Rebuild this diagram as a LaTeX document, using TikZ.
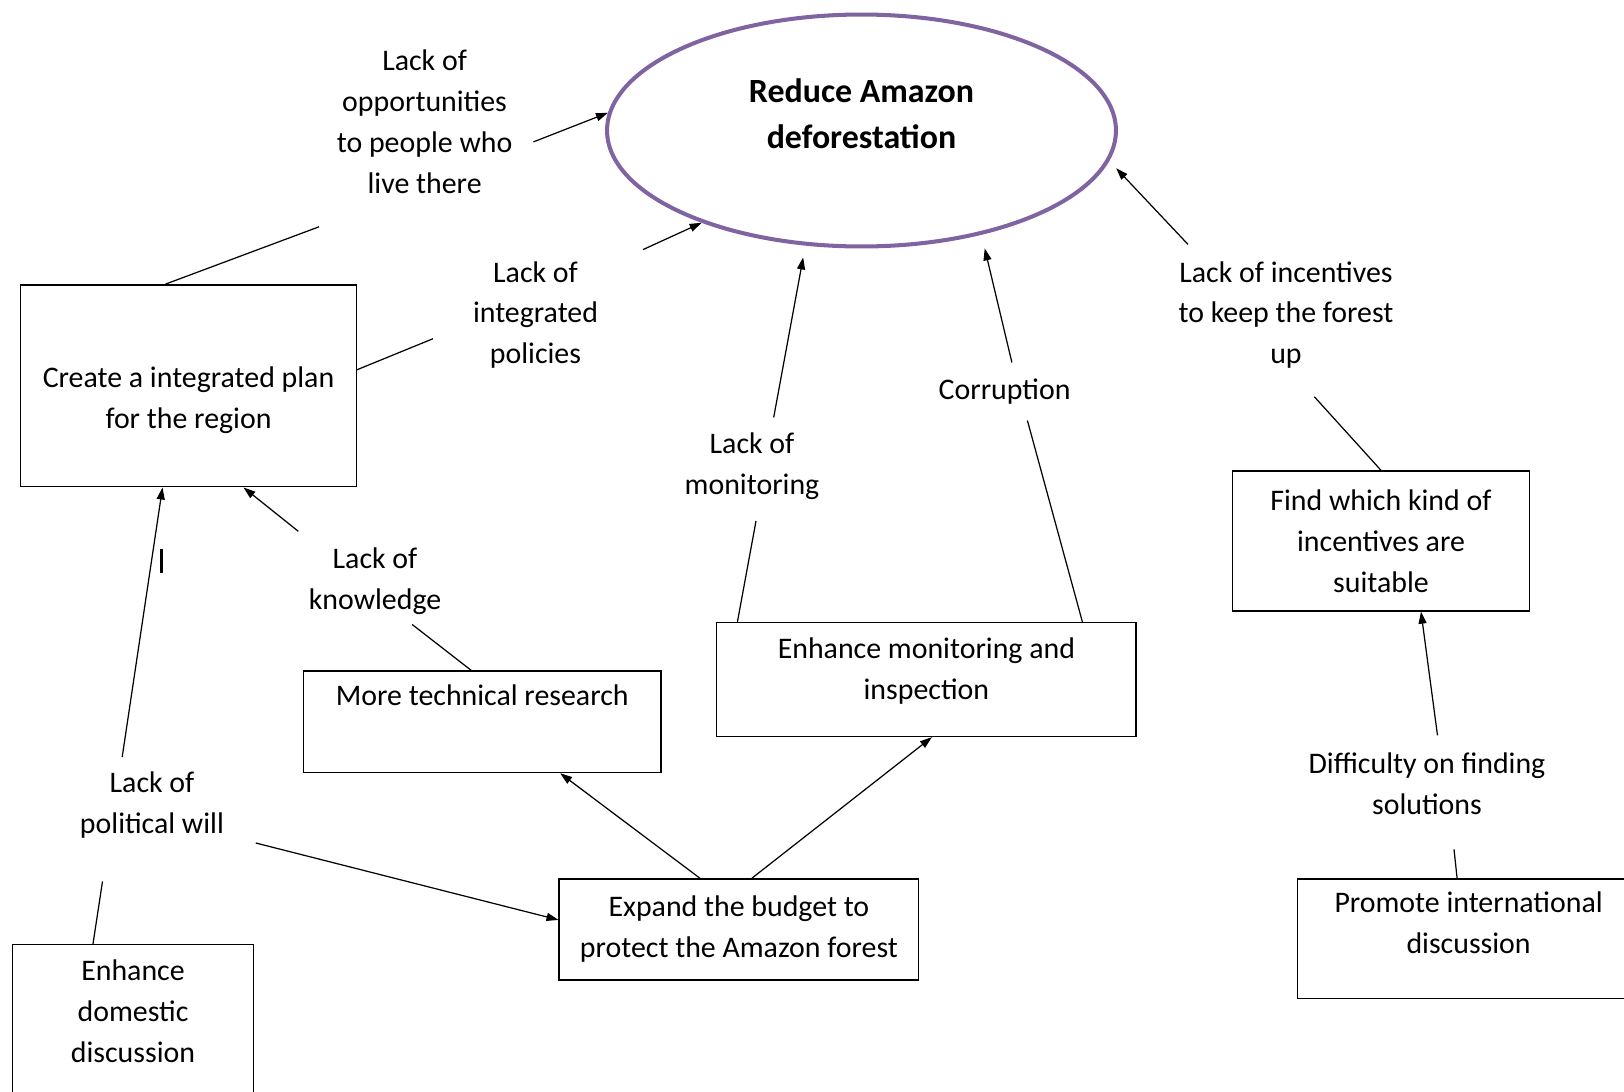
\documentclass[tikz,border=0pt]{standalone}
\usepackage{fontspec}
\setmainfont{Carlito}
\usetikzlibrary{shapes.geometric,arrows.meta}
\definecolor{viola}{RGB}{128,100,162}
\begin{document}
\begin{tikzpicture}[x=0.02cm,y=-0.02cm,
  font=\fontsize{17}{23.3}\selectfont,
  box/.style={draw,line width=0.8pt,align=center,inner sep=0pt},
  lbl/.style={align=center,inner sep=1pt},
  arr/.style={-{Triangle[length=0.24cm,width=0.16cm]},line width=0.7pt},
  lin/.style={line width=0.7pt}]
\useasboundingbox (0,0) rectangle (1624,1092);

% Obiettivo
\node[ellipse,draw=viola,line width=2.3pt,minimum width=10.18cm,minimum height=4.64cm,inner sep=0pt,
  font=\fontsize{19.3}{26}\selectfont\bfseries,align=center,text depth=0.68cm] (goal) at (861.5,130.5) {Reduce Amazon\\deforestation};

% Riquadri
\node[box,minimum width=6.71cm,minimum height=4.04cm,text height=1.82cm] (plan) at (188.5,385.8) {Create a integrated plan\\for the region};
\node[box,minimum width=7.15cm,minimum height=2.03cm,text depth=1.05cm] (research) at (482.2,721.8) {More technical research};
\node[box,minimum width=8.39cm,minimum height=2.28cm,text depth=0.45cm] (monitor) at (926.4,679.5) {Enhance monitoring and\\inspection};
\node[box,minimum width=5.94cm,minimum height=2.8cm] (incent) at (1381,541) {Find which kind of\\incentives are\\suitable};
\node[box,minimum width=7.19cm,minimum height=2.02cm] (budget) at (738.9,929.4) {Expand the budget to\\protect the Amazon forest};
\node[box,minimum width=6.84cm,minimum height=2.39cm,text depth=0.64cm] (promote) at (1468.6,938.7) {Promote international\\discussion};
\node[box,minimum width=4.83cm,minimum height=3.71cm,text depth=1.05cm] (domestic) at (133,1037.3) {Enhance\\domestic\\discussion};

% Cause
\node[lbl] (opport) at (424.6,121.5) {Lack of\\opportunities\\to people who\\live there};
\node[lbl] (policies) at (535.5,315) {Lack of\\integrated\\policies};
\node[lbl] (incentlack) at (1286,315) {Lack of incentives\\to keep the forest\\up};
\node[lbl] (corrupt) at (1004.6,391.5) {Corruption};
\node[lbl] (monitlack) at (752,466.6) {Lack of\\monitoring};
\node[lbl] (knowl) at (375,581.4) {Lack of\\knowledge};
\node[lbl] (politwill) at (152,805.2) {Lack of\\political will};
\node[lbl] (difficult) at (1427,784) {Difficulty on finding\\solutions};

% Punti liberi
\coordinate (a1) at (319,226.8);   \coordinate (a2) at (533.4,141.9);
\coordinate (b1) at (433,338.7);   \coordinate (b2) at (643,249.6);
\coordinate (c1) at (756,521);     \coordinate (c2) at (773.7,417.4);
\coordinate (d1) at (1027.4,420.5); \coordinate (d2) at (1011.9,362.5);
\coordinate (e1) at (1314.3,396.7); \coordinate (e2) at (1188,244.4);
\coordinate (f1) at (412.2,624.5); \coordinate (f2) at (298.3,531.3);
\coordinate (g1) at (102.5,881.4); \coordinate (g2) at (122.2,757);
\coordinate (g3) at (255.8,843);
\coordinate (j1) at (1454,849.3);  \coordinate (j2) at (1437.5,735.4);

% Collegamenti
\draw[lin] ([xshift=-0.46cm]plan.north) -- (a1);
\draw[arr] (a2) -- (goal.176);
\draw[lin] ([yshift=0.32cm]plan.east) -- (b1);
\draw[arr] (b2) -- (goal.210);
\draw[lin] ([xshift=-3.78cm]monitor.north) -- (c1);
\draw[arr,shorten >=12*0.02cm] (c2) -- (goal.244);
\draw[lin] ([xshift=3.12cm]monitor.north) -- (d1);
\draw[arr,shorten >=14*0.02cm] (d2) -- (goal.319);
\draw[lin] (incent.north) -- (e1);
\draw[arr,shorten >=10*0.02cm] (e2) -- (goal.353);
\draw[lin] ([xshift=-0.22cm]research.north) -- (f1);
\draw[arr] (f2) -- ([xshift=1.1cm]plan.south);
\draw[lin] ([xshift=-0.8cm]domestic.north) -- (g1);
\draw[arr] (g2) -- ([xshift=-0.52cm]plan.south);
\draw[arr] (g3) -- ([yshift=0.19cm]budget.west);
\draw[arr] ([xshift=-0.78cm]budget.north) -- ([xshift=1.56cm]research.south);
\draw[arr] ([xshift=0.26cm]budget.north) -- ([xshift=0.11cm]monitor.south);
\draw[lin] ([xshift=-0.23cm]promote.north) -- (j1);
\draw[arr] (j2) -- ([xshift=0.8cm]incent.south);

% Segno
\draw[line width=3*0.02cm] (161.6,549) -- (161.6,573);
\end{tikzpicture}
\end{document}
